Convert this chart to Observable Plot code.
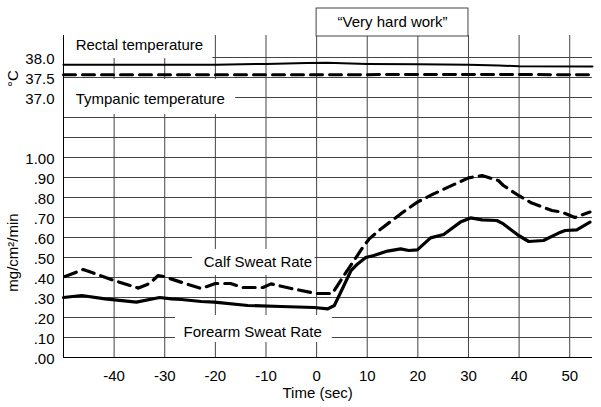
<!DOCTYPE html>
<html><head><meta charset="utf-8">
<script src="https://cdn.jsdelivr.net/npm/d3@7"></script>
<script src="https://cdn.jsdelivr.net/npm/@observablehq/plot@0.6"></script>
<style>body{margin:0;background:#fff}</style>
</head><body><div id="chart"></div>
<script>
// ---- data ----
const calfTime = [-49.7,-46.1,-40,-35.2,-33,-31.3,-30.2,-26,-22.8,-20,-17,-14.6,-10.6,-9,-5,-0.1,3.1,5.4,7.4,9.1,10.4,12.7,16.6,19.9,23.1,27.4,30,32.7,35.9,36.9,39.9,42.5,46.5,48.4,51,54];
const calfRate = [0.405,0.44,0.385,0.347,0.37,0.41,0.405,0.37,0.345,0.37,0.37,0.35,0.35,0.368,0.345,0.32,0.32,0.41,0.485,0.55,0.593,0.643,0.718,0.777,0.818,0.868,0.898,0.91,0.885,0.86,0.81,0.772,0.735,0.727,0.70,0.727];
const forearmTime = [-50,-46.4,-41.8,-35.6,-31,-28.7,-26.7,-22.8,-20.2,-13.6,-7,-0.5,2.2,3.5,5.4,6.8,8.1,9.7,11.3,14,16.6,18.2,19.9,22.5,25.1,28.4,30.4,32.7,35.6,36.9,39.9,41.9,44.8,47.8,49.1,51.4,54];
const forearmRate = [0.30,0.31,0.293,0.277,0.30,0.293,0.29,0.28,0.277,0.26,0.255,0.25,0.243,0.26,0.36,0.435,0.468,0.50,0.51,0.532,0.543,0.535,0.538,0.598,0.615,0.677,0.698,0.688,0.685,0.668,0.61,0.58,0.585,0.622,0.635,0.638,0.677];
const rectalTime = [-50,-20,-10,-2,2,10,20,30,36,40,54.5];
const rectalTemp = [37.82,37.82,37.84,37.86,37.87,37.84,37.83,37.82,37.80,37.78,37.775];
const tympanicTime = [-50,0,30,54.5];
const tympanicTemp = [37.57,37.57,37.575,37.57];
const xTickValues = [-40,-30,-20,-10,0,10,20,30,40,50];
const xTickLabels = ["-40","-30","-20","-10","0","10","20","30","40","50"];
const rateTickValues = [0,0.1,0.2,0.3,0.4,0.5,0.6,0.7,0.8,0.9,1.0];
const rateTickLabels = [".00",".10",".20",".30",".40",".50",".60",".70",".80",".90","1.00"];
const tempTickValues = [37.0,37.5,38.0];
const tempTickLabels = ["37.0","37.5","38.0"];
const workPeriod = [0, 30];
const workLabel = "\u201CVery hard work\u201D";

// temperature panel is stacked above the sweat-rate panel on a shared y scale
const tempY = t => 1.3 + (t - 37.0) * 0.2;

const calf = calfTime.map((t,i)=>({t, v: calfRate[i]}));
const forearm = forearmTime.map((t,i)=>({t, v: forearmRate[i]}));
const rectal = rectalTime.map((t,i)=>({t, v: tempY(rectalTemp[i])}));
const tympanic = tympanicTime.map((t,i)=>({t, v: tempY(tympanicTemp[i])}));
const yTicks = rateTickValues.map((v,i)=>({v, label: rateTickLabels[i]}))
  .concat(tempTickValues.map((t,i)=>({v: tempY(t), label: tempTickLabels[i]})));
const xTicks = xTickValues.map((x,i)=>({x, label: xTickLabels[i]}));

const X0 = -50, X1 = 54.5, YTOP = 1.61;
const grid = d3.range(1, 16).map(i => i / 10);
const FONT = "'Liberation Sans', Arial, Helvetica, sans-serif";
const GRID = "#444";

const chart = Plot.plot({
  width: 601, height: 407,
  marginLeft: 63, marginRight: 9, marginTop: 8, marginBottom: 50,
  x: {domain: [X0, X1], axis: null},
  y: {domain: [0, 1.745], axis: null},
  style: {fontFamily: FONT, fontSize: "15px", background: "white", color: "black", overflow: "visible"},
  marks: [
    Plot.ruleY(grid, {x1: X0, x2: X1, stroke: GRID, strokeWidth: 1}),
    Plot.ruleX(xTickValues, {y1: 0, y2: YTOP, stroke: GRID, strokeWidth: 1}),
    // white backgrounds behind labels (break the grid like the original)
    Plot.rect([0], {x1: X0, x2: -20.5, y1: 1.495, y2: YTOP, fill: "white"}),
    Plot.rect([0], {x1: X0, x2: -16, y1: 1.215, y2: 1.39, fill: "white"}),
    Plot.rect([0], {x1: -24.5, x2: -0.3, y1: 0.41, y2: 0.54, fill: "white"}),
    Plot.rect([0], {x1: -27.9, x2: 3.1, y1: 0.075, y2: 0.21, fill: "white"}),
    // axis lines
    Plot.ruleX([X0], {y1: 0, y2: YTOP, stroke: "black", strokeWidth: 1}),
    Plot.ruleY([0], {x1: X0, x2: X1, stroke: "black", strokeWidth: 1}),
    // work period box
    Plot.rect([workPeriod], {x1: d => d[0], x2: d => d[1], y1: YTOP - 0.005, y2: 1.745, fill: "white", stroke: GRID, strokeWidth: 1}),
    Plot.text([workPeriod], {x: d => (d[0] + d[1]) / 2, y: 1.675, text: () => workLabel, fontSize: 15, fill: "black"}),
    // series
    Plot.line(rectal, {x: "t", y: "v", stroke: "black", strokeWidth: 2}),
    Plot.line(tympanic, {x: "t", y: "v", stroke: "black", strokeWidth: 3, strokeDasharray: "12,7"}),
    Plot.line(forearm, {x: "t", y: "v", stroke: "black", strokeWidth: 3.2, strokeLinejoin: "round"}),
    Plot.line(calf, {x: "t", y: "v", stroke: "black", strokeWidth: 3.2, strokeDasharray: "12,7"}),
    // labels
    Plot.text(["Rectal temperature"], {x: -47.6, y: 1.56, text: d => d, textAnchor: "start", fontSize: 15}),
    Plot.text(["Tympanic temperature"], {x: -47.6, y: 1.29, text: d => d, textAnchor: "start", fontSize: 15}),
    Plot.text(["Calf Sweat Rate"], {x: -22.3, y: 0.475, text: d => d, textAnchor: "start", fontSize: 15}),
    Plot.text(["Forearm Sweat Rate"], {x: -26.3, y: 0.125, text: d => d, textAnchor: "start", fontSize: 15}),
    // tick labels
    Plot.text(yTicks, {x: X0, y: "v", text: "label", textAnchor: "end", dx: -9, dy: 2, fontSize: 15}),
    Plot.text(xTicks, {x: "x", y: 0, text: "label", dy: 19, fontSize: 15}),
    // axis titles
    Plot.text(["Time (sec)"], {x: 0.2, y: 0, text: d => d, dy: 36, fontSize: 15}),
    Plot.text(["mg/cm\u00B2/min"], {x: X0, y: 0.525, text: d => d, dx: -50, rotate: -90, fontSize: 15}),
    Plot.text(["\u00B0C"], {x: X0, y: 1.395, text: d => d, dx: -50, rotate: -90, fontSize: 15})
  ]
});
document.getElementById("chart").appendChild(chart);
</script>
</body></html>
